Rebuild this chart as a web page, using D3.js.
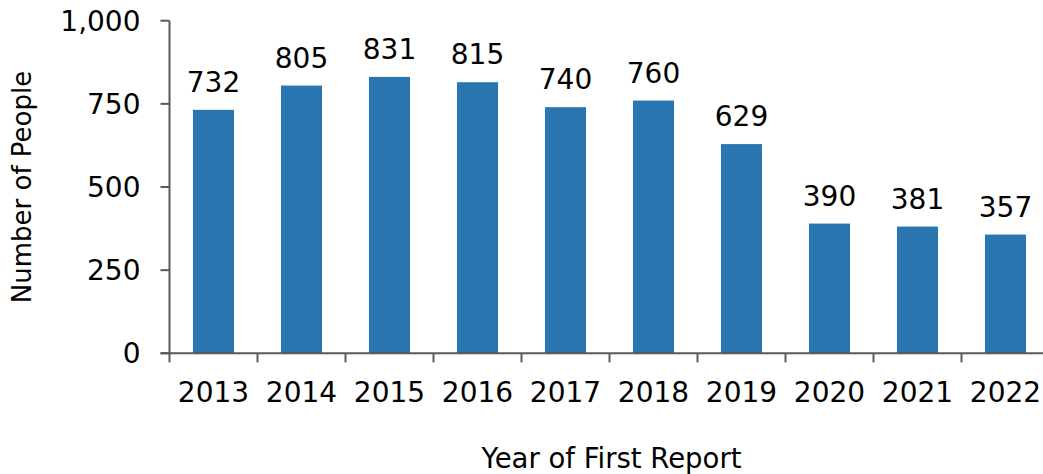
<!DOCTYPE html>
<html><head><meta charset="utf-8">
<script src="https://cdn.jsdelivr.net/npm/d3@7"></script>
<style>
body{margin:0;background:#fff;}
text{font-family:"DejaVu Sans",sans-serif;fill:#000;}
</style></head>
<body><svg id="c" width="1043" height="474"></svg>
<script>
const years = ["2013","2014","2015","2016","2017","2018","2019","2020","2021","2022"];
const people = [732,805,831,815,740,760,629,390,381,357];
const yTicks = [0,250,500,750,1000];
const xTitle = "Year of First Report";
const yTitle = "Number of People";

const svg = d3.select("#c");
const pLeft = 169.5, pRight = 1049.5, pTop = 20.7, pBottom = 353.3;
const axisColor = "#595959";

const x = d3.scaleBand().domain(years).range([pLeft, pRight]).paddingInner(0.534).paddingOuter(0.267);
const y = d3.scaleLinear().domain([0,1000]).range([pBottom, pTop]);

// bars
svg.append("g").selectAll("rect").data(years).join("rect")
  .attr("x", d => x(d)).attr("width", x.bandwidth())
  .attr("y", (d,i) => y(people[i])).attr("height", (d,i) => y(0) - y(people[i]))
  .attr("fill", "#2a76b1");

// value labels
svg.append("g").selectAll("text").data(years).join("text")
  .attr("x", d => x(d) + x.bandwidth()/2)
  .attr("y", (d,i) => y(people[i]) - 18)
  .attr("text-anchor","middle").attr("font-size", 28)
  .text((d,i) => d3.format(",")(people[i]));

// y axis
const ya = svg.append("g");
ya.append("line").attr("x1", pLeft).attr("x2", pLeft).attr("y1", y(1000)).attr("y2", y(0))
  .attr("stroke", axisColor).attr("stroke-width", 2);
ya.selectAll("line.t").data(yTicks).join("line").attr("class","t")
  .attr("x1", pLeft - 9).attr("x2", pLeft).attr("y1", d => y(d)).attr("y2", d => y(d))
  .attr("stroke", axisColor).attr("stroke-width", 2);
ya.selectAll("text").data(yTicks).join("text")
  .attr("x", pLeft - 29).attr("y", d => y(d)).attr("dy","0.36em")
  .attr("text-anchor","end").attr("font-size", 28)
  .text(d => d3.format(",")(d));

// x axis
const xa = svg.append("g");
xa.append("line").attr("x1", pLeft - 9).attr("x2", pRight).attr("y1", y(0)).attr("y2", y(0))
  .attr("stroke", axisColor).attr("stroke-width", 2);
const step = x.step();
const bounds = years.map(d => x(d) - step * x.paddingInner()/2).concat([x(years[years.length-1]) + x.bandwidth() + step*x.paddingInner()/2]);
xa.selectAll("line.t").data(bounds).join("line").attr("class","t")
  .attr("x1", d => d).attr("x2", d => d).attr("y1", y(0)).attr("y2", y(0) + 9)
  .attr("stroke", axisColor).attr("stroke-width", 2);
xa.selectAll("text").data(years).join("text")
  .attr("x", d => x(d) + x.bandwidth()/2).attr("y", y(0) + 49)
  .attr("text-anchor","middle").attr("font-size", 28)
  .text(d => d);

// titles
svg.append("text").attr("x", (pLeft+pRight)/2 + 2).attr("y", 467.5)
  .attr("text-anchor","middle").attr("font-size", 27.5).text(xTitle);
svg.append("text").attr("transform", `translate(31,${(pTop+pBottom)/2}) rotate(-90)`)
  .attr("text-anchor","middle").attr("font-size", 26).text(yTitle);
</script></body></html>
